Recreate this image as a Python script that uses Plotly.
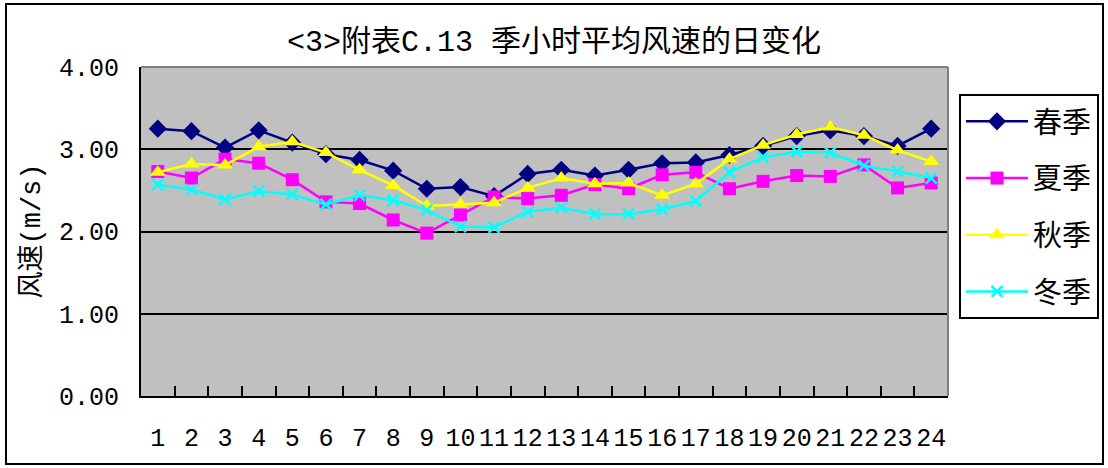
import plotly.graph_objects as go

hours = [str(h) for h in range(1, 25)]

spring = [3.25, 3.22, 3.02, 3.23, 3.08, 2.94, 2.87, 2.74, 2.52, 2.54, 2.43, 2.70,
          2.75, 2.68, 2.75, 2.83, 2.84, 2.93, 3.04, 3.16, 3.23, 3.16, 3.04, 3.25]
summer = [2.73, 2.65, 2.88, 2.83, 2.63, 2.36, 2.34, 2.14, 1.98, 2.20, 2.42, 2.40,
          2.44, 2.57, 2.52, 2.69, 2.72, 2.52, 2.61, 2.68, 2.67, 2.81, 2.53, 2.59]
autumn = [2.72, 2.82, 2.81, 3.03, 3.09, 2.96, 2.75, 2.56, 2.31, 2.33, 2.35, 2.53,
          2.65, 2.58, 2.59, 2.44, 2.58, 2.88, 3.05, 3.18, 3.27, 3.17, 2.99, 2.85]
winter = [2.57, 2.51, 2.39, 2.49, 2.45, 2.33, 2.44, 2.38, 2.26, 2.06, 2.05, 2.24,
          2.29, 2.21, 2.21, 2.27, 2.37, 2.72, 2.90, 2.97, 2.96, 2.80, 2.73, 2.65]

series_names = ["春季", "夏季", "秋季", "冬季"]
title_text = "&lt;3&gt;附表C.13 季小时平均风速的日变化"
y_title = "风速(m/s)"
y_ticks = [0, 1, 2, 3, 4]

styles = [
    dict(color="#000080", symbol="diamond", size=14),
    dict(color="#FF00FF", symbol="square", size=13),
    dict(color="#FFFF00", symbol="triangle-up", size=14),
    dict(color="#00FFFF", symbol="x-thin", size=11),
]

cjk = "Noto Sans CJK SC"
mono = "Liberation Mono, Noto Sans CJK SC"

fig = go.Figure()
for name, vals, st in zip(series_names, [spring, summer, autumn, winter], styles):
    marker = dict(color=st["color"], symbol=st["symbol"], size=st["size"])
    if st["symbol"] == "x-thin":
        marker["line"] = dict(color=st["color"], width=2.5)
    fig.add_trace(go.Scatter(
        x=hours, y=vals, name=name, mode="lines+markers",
        line=dict(color=st["color"], width=2.5),
        marker=marker, legendgroup=name,
    ))

fig.update_layout(
    width=1108, height=468,
    margin=dict(l=141, r=160, t=67, b=72, autoexpand=False),
    paper_bgcolor="white",
    plot_bgcolor="#C0C0C0",
    showlegend=True,
    title=dict(text=title_text, x=554 / 1108, xref="container", xanchor="center",
               y=1 - 40 / 468, yref="container", yanchor="middle",
               font=dict(family=mono, size=30, color="black")),
    xaxis=dict(type="category", range=[-0.5, len(hours) - 0.5],
               showgrid=False, ticks="inside", tickson="boundaries",
               tickmode="array", tickvals=hours, ticktext=hours, tickangle=0,
               ticklen=10, tickwidth=2, tickcolor="black",
               showline=True, linecolor="black", linewidth=2,
               tickfont=dict(family=mono, size=25, color="black"),
               ticklabelstandoff=18, automargin=False),
    yaxis=dict(range=[0, 4], tickvals=y_ticks, tickformat=".2f",
               showgrid=True, gridcolor="black", gridwidth=1.5,
               showline=True, linecolor="black", linewidth=2,
               zeroline=False, ticks="",
               tickfont=dict(family=mono, size=25, color="black"),
               ticklabelstandoff=15, automargin=False),
    legend=dict(x=(959 - 141) / 807, y=(396 - 94) / 329, xanchor="left", yanchor="top",
                bordercolor="black", borderwidth=2, bgcolor="white",
                font=dict(family=cjk, size=29, color="black"),
                traceorder="grouped", tracegroupgap=16, itemwidth=62),
    annotations=[dict(text=y_title, textangle=-90, x=(32 - 141) / 807, y=0.5,
                      xref="paper", yref="paper", xanchor="center", yanchor="middle",
                      showarrow=False, font=dict(family=mono, size=27, color="black"))],
    shapes=[
        dict(type="rect", xref="paper", yref="paper",
             x0=(6 - 141) / 807, x1=(1103 - 141) / 807,
             y0=(396 - 464) / 329, y1=(396 - 4) / 329,
             line=dict(color="black", width=2), layer="below"),
        dict(type="line", xref="paper", yref="paper", x0=0, x1=1, y0=1, y1=1,
             line=dict(color="#808080", width=2), layer="above"),
        dict(type="line", xref="paper", yref="paper", x0=1, x1=1, y0=0, y1=1,
             line=dict(color="#808080", width=2), layer="above"),
    ],
)

fig.write_html("out.html", config={"displayModeBar": False},
               post_script="document.body.style.margin='0';")
